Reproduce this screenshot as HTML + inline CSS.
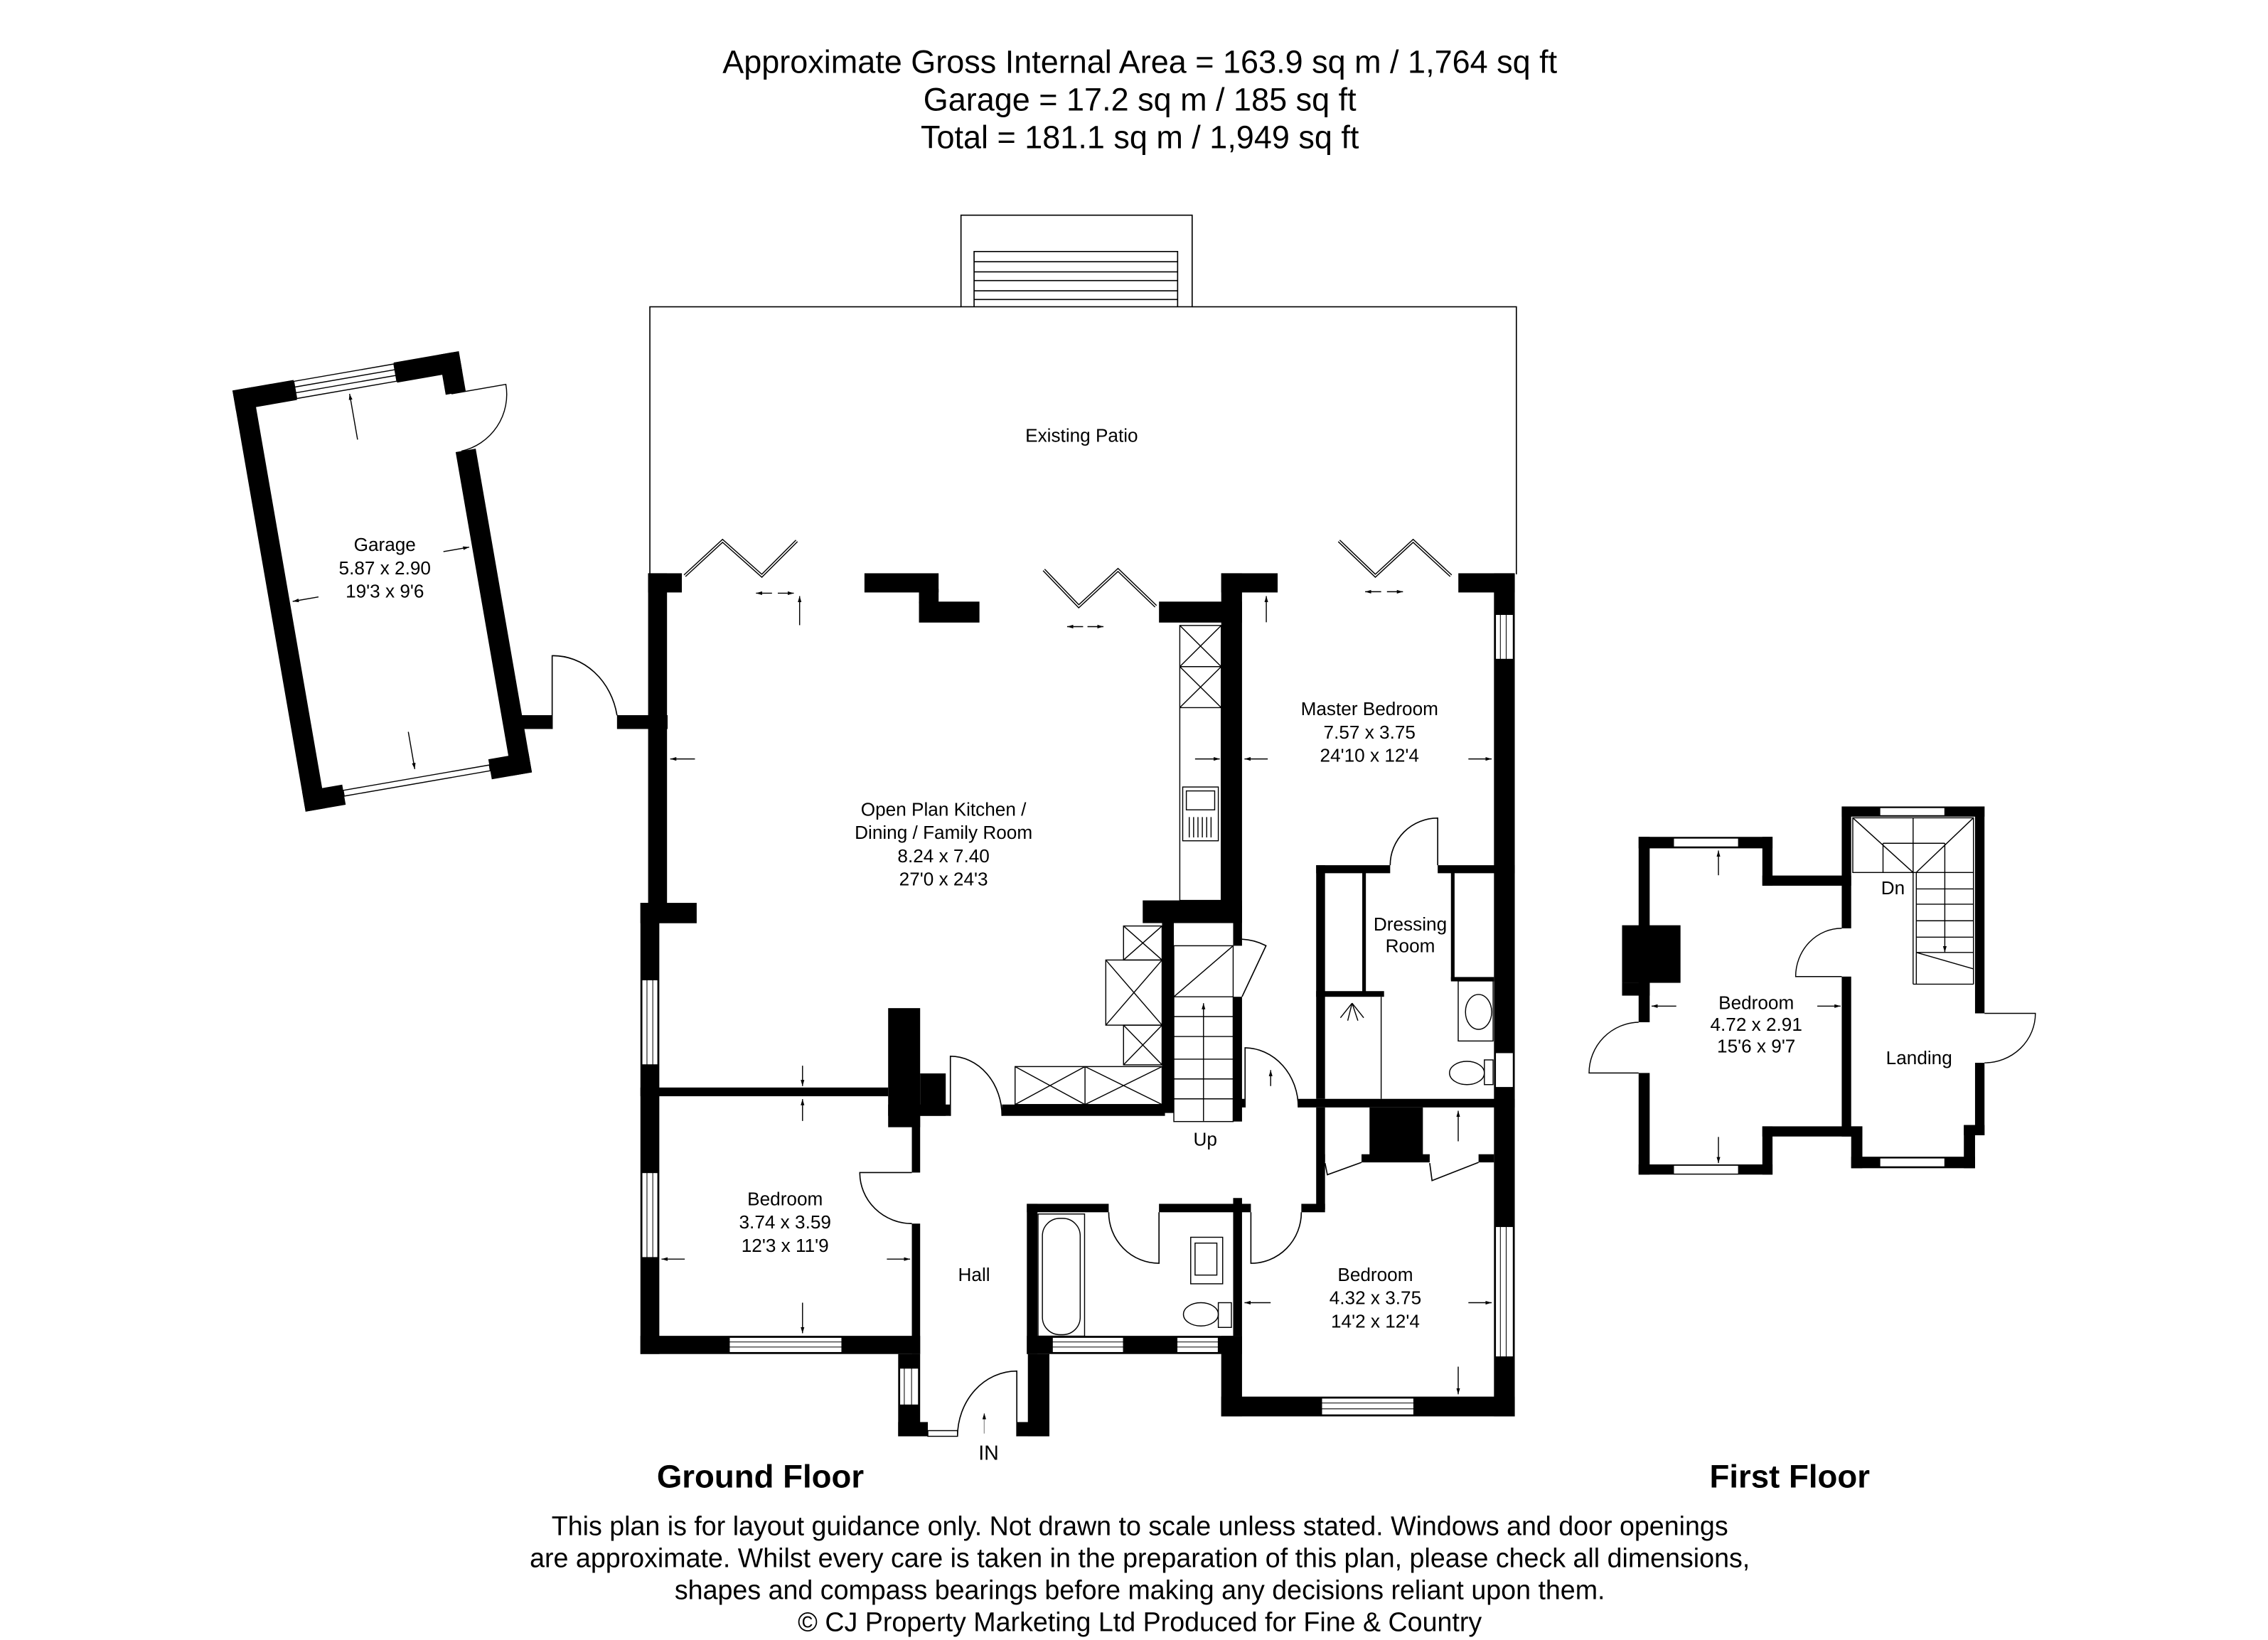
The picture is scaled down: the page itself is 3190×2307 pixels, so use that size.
<!DOCTYPE html>
<html><head><meta charset="utf-8"><style>
html,body{margin:0;padding:0;background:#fff}
svg{display:block}
text{font-family:"Liberation Sans",Arial,sans-serif;fill:#000}
</style></head><body>
<svg width="3190" height="2307" viewBox="0 0 1560 1128" preserveAspectRatio="none" xmlns="http://www.w3.org/2000/svg">
<defs>
<marker id="ah" viewBox="0 0 10 10" refX="10" refY="5" markerWidth="6" markerHeight="6" orient="auto"><path d="M0,2 L10,5 L0,8 z" fill="#000"/></marker>
</defs>
<rect width="1560" height="1128" fill="#fff"/>
<!-- header -->
<g font-size="22" text-anchor="middle">
<text x="784" y="50">Approximate Gross Internal Area = 163.9 sq m / 1,764 sq ft</text>
<text x="784" y="76">Garage = 17.2 sq m / 185 sq ft</text>
<text x="784" y="102">Total = 181.1 sq m / 1,949 sq ft</text>
</g>
<!-- patio -->
<g fill="none" stroke="#000" stroke-width="0.8">
<path d="M447,395 V211 H661 M820,211 H1043 V395"/>
<rect x="661" y="148" width="159" height="63"/>
<path d="M670,211 V173 H810 V211 M670,180 H810 M670,187 H810 M670,193 H810 M670,200 H810 M670,206 H810"/>
</g>
<g font-size="12.8" text-anchor="middle">
<text x="744" y="304">Existing Patio</text>
</g>
<!-- bifold doors -->
<g fill="none" stroke="#000" stroke-width="2.2">
<polyline points="471,396 497,372 524,396 548,372"/>
<polyline points="718,392 742,417 769,392 795,417"/>
<polyline points="921,372 946,396 972,372 998,396"/>
</g>
<g fill="none" stroke="#fff" stroke-width="0.8">
<polyline points="471,396 497,372 524,396 548,372"/>
<polyline points="718,392 742,417 769,392 795,417"/>
<polyline points="921,372 946,396 972,372 998,396"/>
</g>
<!-- ground floor walls -->
<g fill="#000">
<rect x="445.8" y="394.3" width="23.2" height="13.2"/>
<rect x="445.8" y="394.3" width="13" height="240.6"/>
<rect x="440.5" y="621" width="38.7" height="14"/>
<rect x="440.5" y="621" width="13" height="310.3"/>
<rect x="594.6" y="394.3" width="51" height="13.2"/>
<rect x="632.1" y="405" width="13.5" height="10"/>
<rect x="632.1" y="413.8" width="41.6" height="14.4"/>
<rect x="797.2" y="413.8" width="57.1" height="14.4"/>
<rect x="840" y="394.3" width="14.3" height="240.6"/>
<rect x="840" y="394.3" width="38.8" height="13.2"/>
<rect x="786" y="619.3" width="68.3" height="15.6"/>
<rect x="1003.1" y="394.3" width="38.8" height="13.2"/>
<rect x="1027.6" y="394.3" width="14.3" height="579.9"/>
<rect x="440.5" y="748" width="170.4" height="6"/>
<rect x="610.9" y="693.4" width="22" height="81.9"/>
<rect x="632.9" y="738.3" width="17.6" height="29.2"/>
<rect x="610.9" y="759.7" width="42.8" height="7.8"/>
<rect x="689.2" y="759.7" width="112.1" height="7.8"/>
<rect x="799.3" y="634.9" width="8.1" height="130.6"/>
<rect x="848.2" y="623" width="6.1" height="27.5"/>
<rect x="848.2" y="685.6" width="6.1" height="85.8"/>
<rect x="848" y="755.8" width="8" height="5.9"/>
<rect x="893" y="755.8" width="148.9" height="5.9"/>
<rect x="440.5" y="918.8" width="192.4" height="12.5"/>
<rect x="627.2" y="767" width="5.7" height="39.5"/>
<rect x="627.2" y="841.6" width="5.7" height="89.7"/>
<rect x="617.8" y="931.3" width="15.1" height="56.6"/>
<rect x="617.8" y="978.1" width="20.4" height="9.8"/>
<rect x="707" y="931.3" width="14.8" height="56.6"/>
<rect x="699.4" y="978.1" width="22.4" height="9.8"/>
<rect x="706.3" y="828" width="56.3" height="5.8"/>
<rect x="797.2" y="828" width="63.2" height="5.8"/>
<rect x="706.3" y="828" width="7.3" height="103.3"/>
<rect x="706.3" y="918.8" width="148" height="12.5"/>
<rect x="848.2" y="824" width="6.1" height="94.8"/>
<rect x="840" y="918.8" width="14.3" height="55.4"/>
<rect x="840" y="960.6" width="201.9" height="13.6"/>
<rect x="905.3" y="761.7" width="6.1" height="70.2"/>
<rect x="895.1" y="828" width="16.3" height="5.8"/>
<rect x="942" y="761.7" width="36.7" height="37"/>
<rect x="908" y="793.9" width="3.4" height="5.6"/>
<rect x="936.5" y="793.9" width="46.9" height="5.6"/>
<rect x="1017" y="793.9" width="10.6" height="5.6"/>
<rect x="905.3" y="595.1" width="6.1" height="160.7"/>
<rect x="905.3" y="595.1" width="50.9" height="5.5"/>
<rect x="988.9" y="595.1" width="53" height="5.5"/>
<rect x="905.3" y="681.7" width="46.7" height="3.9"/>
<rect x="937" y="600" width="2.5" height="82"/>
<rect x="998" y="600" width="2.5" height="74"/>
<rect x="998" y="672" width="29.6" height="3"/>
</g>
<!-- windows -->
<g fill="#fff" stroke="#000" stroke-width="0.7">
<rect x="441.5" y="673.9" width="11" height="58.5"/>
<rect x="441.5" y="806.5" width="11" height="58.5"/>
<rect x="501.6" y="919.8" width="77.5" height="10.5"/>
<rect x="1028.6" y="422.6" width="12.3" height="30.9"/>
<rect x="1028.6" y="843.6" width="12.3" height="89.7"/>
<rect x="909" y="961.6" width="63.5" height="11.6"/>
<rect x="723.8" y="919.8" width="49" height="10.5"/>
<rect x="809.5" y="919.8" width="28.5" height="10.5"/>
<rect x="618.8" y="941" width="13" height="25.4"/>
<rect x="638.2" y="984" width="20.4" height="3.9"/>
<rect x="1028.6" y="724" width="12.3" height="24"/>
</g>
<g stroke="#000" stroke-width="0.5" fill="none">
<path d="M445,673.9 V732.4 M449,673.9 V732.4 M445,806.5 V865 M449,806.5 V865"/>
<path d="M501.6,923 H579.1 M501.6,926.5 H579.1 M723.8,923 H772.8 M723.8,926.5 H772.8 M809.5,923 H838 M809.5,926.5 H838"/>
<path d="M909,965 H972.5 M909,969 H972.5 M1032,422.6 V453.5 M1036,422.6 V453.5 M1032,843.6 V933.3 M1036,843.6 V933.3 M622,941 V966.4 M627,941 V966.4"/>
</g>
<!-- doors ground -->
<g fill="none" stroke="#000" stroke-width="0.8">
<path d="M956.2,595.1 A32.7,32.4 0 0 1 988.9,562.7 V595.1"/>
<path d="M856.4,761.7 V720.7 A37,41 0 0 1 893,761.7"/>
<path d="M653.7,767.5 V726.5 A35.5,41 0 0 1 689.2,767.5"/>
<path d="M627.2,806.5 H591.4 A36,35 0 0 0 627.2,841.6"/>
<path d="M797.2,833.8 V868.9 A34.6,35 0 0 1 762.6,833.8"/>
<path d="M860.4,833.8 V868.9 A34.6,35 0 0 0 895.1,833.8"/>
<path d="M699.4,987.9 V943 A40.8,45 0 0 0 658.6,987.9"/>
<path d="M854.3,685.6 L870.8,650.5 A40,40 0 0 0 854.3,646"/>
<path d="M911.4,800 L913,808 L936.5,799.5 M983.4,800 L985,812 L1017,799.5"/>
</g>
<!-- kitchen units -->
<g fill="none" stroke="#000" stroke-width="0.7">
<rect x="811.5" y="430.2" width="28.5" height="189.1"/>
<path d="M811.5,458.5 H840 M811.5,486.7 H840 M811.5,430.2 L840,458.5 M840,430.2 L811.5,458.5 M811.5,458.5 L840,486.7 M840,458.5 L811.5,486.7"/>
<rect x="813.5" y="541.3" width="24.5" height="37"/>
<rect x="816" y="544" width="19.5" height="13"/>
<path d="M818,562 V576 M821,562 V576 M824,562 V576 M827,562 V576 M830,562 V576 M833,562 V576"/>
<rect x="772.8" y="636.9" width="26.5" height="23.4"/>
<path d="M772.8,636.9 L799.3,660.3 M799.3,636.9 L772.8,660.3"/>
<rect x="760.6" y="660.3" width="38.7" height="44.8"/>
<path d="M760.6,660.3 L799.3,705.1 M799.3,660.3 L760.6,705.1"/>
<rect x="772.8" y="705.1" width="26.5" height="27.3"/>
<path d="M772.8,705.1 L799.3,732.4 M799.3,705.1 L772.8,732.4"/>
<rect x="698.2" y="733.6" width="101.1" height="26.1"/>
<path d="M746.3,733.6 V759.7 M698.2,733.6 L746.3,759.7 M746.3,733.6 L698.2,759.7 M746.3,733.6 L799.3,759.7 M799.3,733.6 L746.3,759.7"/>
<rect x="807.4" y="650.5" width="40.8" height="120.9"/>
<path d="M807.4,685.6 L848.2,650.5 M807.4,685.6 H848.2 M807.4,699.2 H848.2 M807.4,712.9 H848.2 M807.4,728.5 H848.2 M807.4,742.1 H848.2 M807.4,755.8 H848.2"/>
<path d="M827.8,771 V690" marker-end="url(#ah)"/>
<rect x="717" y="838" width="26" height="80" rx="12"/>
<rect x="714" y="835" width="32" height="84"/>
<rect x="819" y="851" width="22" height="32"/>
<rect x="822" y="855" width="15" height="22"/>
<ellipse cx="826" cy="904" rx="12" ry="8"/>
<rect x="838" y="896" width="9" height="17"/>
<rect x="1003" y="674.7" width="24" height="41.3"/>
<ellipse cx="1017" cy="696" rx="9" ry="12"/>
<ellipse cx="1009" cy="738" rx="12" ry="8"/>
<rect x="1021" y="729" width="6" height="17"/>
<path d="M950,685.6 V755.8 M930,690 L922,700 M930,690 L927,702 M930,690 L934,702 M930,690 L938,700"/>
</g>
<!-- garage -->
<g transform="translate(159.9,268.6) rotate(-9.85)">
<g fill="#000">
<rect x="0" y="0" width="42.6" height="14"/>
<rect x="112.5" y="0" width="45.5" height="14"/>
<rect x="0" y="0" width="14" height="294"/>
<rect x="144" y="0" width="14" height="28"/>
<rect x="144" y="68" width="14" height="226"/>
<rect x="0" y="280" width="28" height="14"/>
<rect x="130" y="280" width="28" height="14"/>
</g>
<g fill="none" stroke="#000" stroke-width="0.7">
<rect x="42.6" y="1" width="69.9" height="12" fill="#fff"/>
<path d="M42.6,5 H112.5 M42.6,9 H112.5"/>
<rect x="28" y="284" width="102" height="4" fill="#fff"/>
<path d="M148,28 H186 A40,40 0 0 1 148,68"/>
<path d="M79,48 V16" marker-end="url(#ah)"/>
<path d="M79,252 V278" marker-end="url(#ah)"/>
<path d="M34,150 H16" marker-end="url(#ah)"/>
<path d="M124,134 H142" marker-end="url(#ah)"/>
</g>
<g font-size="12.8" text-anchor="middle" transform="rotate(9.85 79 140)">
<text x="82" y="126">Garage</text>
<text x="82" y="142">5.87 x 2.90</text>
<text x="82" y="158">19'3 x 9'6</text>
</g>
</g>
<g fill="#000">
<rect x="349.4" y="491.9" width="30.4" height="9.5"/>
<rect x="424.4" y="491.9" width="34.8" height="9.5"/>
</g>
<path d="M379.8,501.4 V451 A44.6,50 0 0 1 424.4,492" fill="none" stroke="#000" stroke-width="0.8"/>
<!-- dimension arrows -->
<g fill="none" stroke="#000" stroke-width="0.7">
<path d="M550,430 V410" marker-end="url(#ah)"/>
<path d="M531,408 H520" marker-end="url(#ah)"/><path d="M535,408 H546" marker-end="url(#ah)"/>
<path d="M745,431 H734" marker-end="url(#ah)"/><path d="M748,431 H759" marker-end="url(#ah)"/>
<path d="M950,407 H939" marker-end="url(#ah)"/><path d="M954,407 H965" marker-end="url(#ah)"/>
<path d="M871,428 V410" marker-end="url(#ah)"/>
<path d="M478,522 H461" marker-end="url(#ah)"/>
<path d="M822,522 H839" marker-end="url(#ah)"/>
<path d="M872,522 H856" marker-end="url(#ah)"/>
<path d="M1010,522 H1026" marker-end="url(#ah)"/>
<path d="M552,733 V747" marker-end="url(#ah)"/>
<path d="M552,771 V756" marker-end="url(#ah)"/>
<path d="M471,866 H455" marker-end="url(#ah)"/>
<path d="M610,866 H626" marker-end="url(#ah)"/>
<path d="M552,896 V917" marker-end="url(#ah)"/>
<path d="M874,747 V736" marker-end="url(#ah)"/>
<path d="M1003,785 V764" marker-end="url(#ah)"/>
<path d="M874,896 H856" marker-end="url(#ah)"/>
<path d="M1010,896 H1026" marker-end="url(#ah)"/>
<path d="M1003,940 V959" marker-end="url(#ah)"/>
<path d="M677,986 V972" stroke="#999" marker-end="url(#ah)"/>
</g>
<!-- ground labels -->
<g font-size="12.8" text-anchor="middle">
<text x="649" y="561">Open Plan Kitchen /</text>
<text x="649" y="577">Dining / Family Room</text>
<text x="649" y="593">8.24 x 7.40</text>
<text x="649" y="609">27'0 x 24'3</text>
<text x="942" y="492">Master Bedroom</text>
<text x="942" y="508">7.57 x 3.75</text>
<text x="942" y="524">24'10 x 12'4</text>
<text x="970" y="640">Dressing</text>
<text x="970" y="655">Room</text>
<text x="540" y="829">Bedroom</text>
<text x="540" y="845">3.74 x 3.59</text>
<text x="540" y="861">12'3 x 11'9</text>
<text x="670" y="881">Hall</text>
<text x="946" y="881">Bedroom</text>
<text x="946" y="897">4.32 x 3.75</text>
<text x="946" y="913">14'2 x 12'4</text>
<text x="829" y="788">Up</text>
<text x="680" y="1004" font-size="14">IN</text>
</g>
<!-- first floor -->
<g fill="#000">
<rect x="1127.1" y="575.6" width="92.1" height="7.9"/>
<rect x="1212.2" y="575.6" width="7" height="33.6"/>
<rect x="1212.2" y="602.2" width="61.1" height="7"/>
<rect x="1266.8" y="554.7" width="6.5" height="83.8"/>
<rect x="1266.8" y="671.7" width="6.5" height="110"/>
<rect x="1266.8" y="554.7" width="98.2" height="7"/>
<rect x="1358.5" y="554.7" width="6.5" height="142.3"/>
<rect x="1358.5" y="731" width="6.5" height="49.8"/>
<rect x="1350.8" y="773.8" width="14.2" height="7"/>
<rect x="1350.8" y="773.8" width="7.7" height="29.7"/>
<rect x="1273.3" y="795.6" width="85.2" height="7.9"/>
<rect x="1273.3" y="774.7" width="7.7" height="28.8"/>
<rect x="1127.1" y="575.6" width="7.6" height="127.5"/>
<rect x="1127.1" y="738" width="7.6" height="69.9"/>
<rect x="1127.1" y="800.9" width="92.1" height="7"/>
<rect x="1212.2" y="774.7" width="7" height="33.2"/>
<rect x="1212.2" y="774.7" width="68.8" height="7"/>
<rect x="1115.7" y="636.4" width="40.2" height="39.6"/>
<rect x="1115.7" y="676" width="19" height="8.8"/>
</g>
<g fill="#fff" stroke="#000" stroke-width="0.6">
<rect x="1151.1" y="576.5" width="44.7" height="6"/>
<rect x="1151.1" y="801.5" width="44.7" height="6"/>
<rect x="1293" y="555.5" width="44.7" height="5.5"/>
<rect x="1293" y="796.5" width="44.7" height="6"/>
</g>
<g fill="none" stroke="#000" stroke-width="0.7">
<path d="M1266.8,638.5 A31.7,33.2 0 0 0 1235.1,671.7 H1266.8"/>
<path d="M1127.1,703.1 A35,35 0 0 0 1093,738 H1127.1"/>
<path d="M1365,697 H1400 A35,34 0 0 1 1365,731"/>
<rect x="1274.4" y="562.5" width="83" height="37.6"/>
<path d="M1274.4,562.5 L1315.9,600.1 M1357.4,562.5 L1318,600.1 M1295.2,580 V600.1 M1315.9,562.5 V600.1 M1337.7,580 V600.1 M1295.2,580 H1337.7"/>
<path d="M1315.9,600.1 V676.9 M1318.1,600.1 V676.9 M1357.4,600 V677 M1315.9,676.9 H1357.4 M1318.1,611.4 H1357.4 M1318.1,621.9 H1357.4 M1318.1,633.3 H1357.4 M1318.1,644.6 H1357.4 M1318.1,655.1 H1357.4 M1318.1,655.1 L1357.4,666.4"/>
<path d="M1337.7,600 V655" marker-end="url(#ah)"/>
<path d="M1182,602 V585" marker-end="url(#ah)"/>
<path d="M1182,782 V800" marker-end="url(#ah)"/>
<path d="M1153,692 H1136" marker-end="url(#ah)"/>
<path d="M1250,692 H1266" marker-end="url(#ah)"/>
</g>
<g font-size="12.8" text-anchor="middle">
<text x="1302" y="615">Dn</text>
<text x="1208" y="694">Bedroom</text>
<text x="1208" y="709">4.72 x 2.91</text>
<text x="1208" y="724">15'6 x 9'7</text>
<text x="1320" y="732">Landing</text>
</g>
<g font-size="22.3" font-weight="bold" text-anchor="middle">
<text x="523" y="1023">Ground Floor</text>
<text x="1231" y="1023">First Floor</text>
</g>
<g font-size="18.4" text-anchor="middle">
<text x="784" y="1056">This plan is for layout guidance only. Not drawn to scale unless stated. Windows and door openings</text>
<text x="784" y="1078">are approximate. Whilst every care is taken in the preparation of this plan, please check all dimensions,</text>
<text x="784" y="1100">shapes and compass bearings before making any decisions reliant upon them.</text>
<text x="784" y="1122">© CJ Property Marketing Ltd Produced for Fine &amp; Country</text>
</g>
</svg>
</body></html>
